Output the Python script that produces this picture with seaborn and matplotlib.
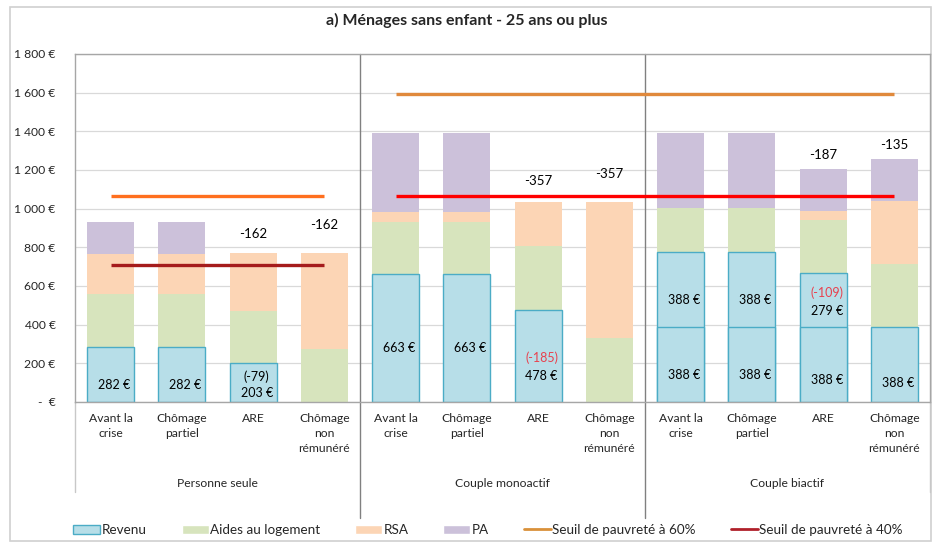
import numpy as np
import seaborn as sns
import matplotlib.pyplot as plt
from matplotlib.patches import Patch, Rectangle
from matplotlib.lines import Line2D
from matplotlib.ticker import FuncFormatter

# data
groups = ["Personne seule", "Couple monoactif", "Couple biactif"]
situations = ["Avant la\ncrise", "Chômage\npartiel", "ARE", "Chômage\nnon\nrémunéré"]

revenu = [282, 282, 203, 0, 663, 663, 478, 0, 388, 388, 388, 388]
revenu_2nd = [0, 0, 0, 0, 0, 0, 0, 0, 388, 388, 279, 0]
aides = [275, 275, 270, 275, 270, 270, 330, 330, 227, 227, 274, 325]
rsa = [210, 210, 297, 495, 50, 50, 228, 706, 0, 0, 46, 326]
pa = [165, 165, 0, 0, 410, 410, 0, 0, 390, 390, 219, 219]

seuil_60 = [1063, 1594]   # personne seule, couples
seuil_40 = [709, 1063]

ecarts = ["", "", "-162", "-162", "", "", "-357", "-357", "", "", "-187", "-135"]
ecart_offsets = [0, 0, 14, 20, 0, 0, 15, 20, 0, 0, 10, 10]  # points above the bar

# (bar, y, text, colour) labels inside the blue boxes
red = "#E8414E"
rev_labels = [
    (0, 88, "282 €", "black"), (1, 88, "282 €", "black"),
    (2, 129, "(-79)", "black"), (2, 47, "203 €", "black"),
    (4, 279, "663 €", "black"), (5, 279, "663 €", "black"),
    (6, 227, "(-185)", red), (6, 134, "478 €", "black"),
    (8, 527, "388 €", "black"), (8, 140, "388 €", "black"),
    (9, 527, "388 €", "black"), (9, 140, "388 €", "black"),
    (10, 564, "(-109)", red), (10, 470, "279 €", "black"),
    (10, 114, "388 €", "black"), (11, 98, "388 €", "black"),
]

c_rev, c_rev_edge = "#B7DEE8", "#4BACC6"
c_aides = "#D7E4BD"
c_rsa = "#FCD5B5"
c_pa = "#CCC1DA"

sns.set_theme(style="white")
plt.rcParams["font.family"] = ["Lato", "DejaVu Sans"]

fig = plt.figure(figsize=(9.33, 5.45), dpi=100)
fig.patches.append(Rectangle((10 / 933, 4 / 545), 921 / 933, 534 / 545, transform=fig.transFigure,
                             facecolor="white", edgecolor="#D0D0D0", lw=1.2, zorder=-1))
ax = fig.add_axes([75 / 933, 1 - 402 / 545, 855 / 933, 348 / 545])
ax.patch.set_alpha(0)

pos = np.arange(len(revenu))
rev_tot = np.array(revenu) + np.array(revenu_2nd)
top_aides = rev_tot + np.array(aides)
top_rsa = top_aides + np.array(rsa)
top_pa = top_rsa + np.array(pa)

w = 0.66
sns.barplot(x=pos, y=top_pa, color=c_pa, saturation=1, width=w, native_scale=True,
            errorbar=None, linewidth=0, ax=ax)
sns.barplot(x=pos, y=top_rsa, color=c_rsa, saturation=1, width=w, native_scale=True,
            errorbar=None, linewidth=0, ax=ax)
sns.barplot(x=pos, y=top_aides, color=c_aides, saturation=1, width=w, native_scale=True,
            errorbar=None, linewidth=0, ax=ax)
m = rev_tot > 0
sns.barplot(x=pos[m], y=rev_tot[m], color=c_rev, saturation=1, width=w, native_scale=True,
            errorbar=None, linewidth=1, edgecolor=c_rev_edge, ax=ax)
m2 = np.array(revenu_2nd) > 0
sns.barplot(x=pos[m2], y=np.array(revenu)[m2], color=c_rev, saturation=1, width=w, native_scale=True,
            errorbar=None, linewidth=1, edgecolor=c_rev_edge, ax=ax)

# poverty thresholds
ax.plot([0, 3], [seuil_60[0]] * 2, color="#FF6F1E", lw=2.4, solid_capstyle="butt", zorder=5)
ax.plot([0, 3], [seuil_40[0]] * 2, color="#A51C1C", lw=2.4, solid_capstyle="butt", zorder=5)
ax.plot([4, 11], [seuil_60[1]] * 2, color="#E0893C", lw=2.4, solid_capstyle="butt", zorder=5)
ax.plot([4, 11], [seuil_40[1]] * 2, color="#FF0000", lw=2.4, solid_capstyle="butt", zorder=5)

for b, y, t, c in rev_labels:
    ax.text(b + 0.05, y, t, ha="center", va="center", fontsize=9, color=c, zorder=6)

for b, t in enumerate(ecarts):
    if t:
        ax.annotate(t, (b, top_pa[b]), xytext=(0, ecart_offsets[b]), textcoords="offset points",
                    ha="center", va="center", fontsize=9.5, color="black")

ax.set_xlim(-0.5, 11.5)
ax.set_ylim(0, 1800)
ax.set_yticks(np.arange(0, 1801, 200))
ax.yaxis.set_major_formatter(FuncFormatter(
    lambda v, _: "-  €" if v == 0 else f"{int(v):,} €".replace(",", " ")))
ax.set_xticks(pos)
ax.set_xticklabels(situations * 3, linespacing=1.45, va="top")
ax.tick_params(axis="both", length=0, labelsize=8.7, colors="#262626")
ax.tick_params(axis="x", pad=8)
ax.tick_params(axis="y", pad=14)
ax.grid(axis="y", color="#D9D9D9", lw=0.9)
ax.set_axisbelow(True)
for s in ax.spines.values():
    s.set_color("#A6A6A6")
    s.set_linewidth(1)
ax.set_xlabel("")
ax.set_ylabel("")

trans = ax.get_xaxis_transform()
for x in (3.5, 7.5):
    ax.plot([x, x], [1, -0.333], transform=trans, color="#808080", lw=1, clip_on=False)
for x in (-0.5, 11.5):
    ax.plot([x, x], [0, -0.259], transform=trans, color="#C8C8C8", lw=1, clip_on=False)
for i, g in enumerate(groups):
    ax.text(4 * i + 1.5, -0.233, g, transform=trans, ha="center", va="center",
            fontsize=8.7, color="#262626")

fig.text(0.5, 1 - 20 / 545, "a) Ménages sans enfant - 25 ans ou plus", ha="center", va="center",
         fontsize=11.5, fontweight="bold", color="#262626")

handles = [
    Patch(facecolor=c_rev, edgecolor=c_rev_edge, lw=1),
    Patch(facecolor=c_aides),
    Patch(facecolor=c_rsa),
    Patch(facecolor=c_pa),
    Line2D([], [], color="#D9913A", lw=2),
    Line2D([], [], color="#B0202A", lw=2),
]
labels = ["Revenu", "Aides au logement", "RSA", "PA", "Seuil de pauvreté à 60%", "Seuil de pauvreté à 40%"]
fig.legend(handles, labels, loc="center", bbox_to_anchor=(488 / 933, 1 - 530 / 545), ncol=6,
           frameon=False, fontsize=9.7, handlelength=2.0, handleheight=0.6, handletextpad=0.1,
           columnspacing=2.6, labelcolor="#262626")

fig.savefig("out.png", dpi=100)
